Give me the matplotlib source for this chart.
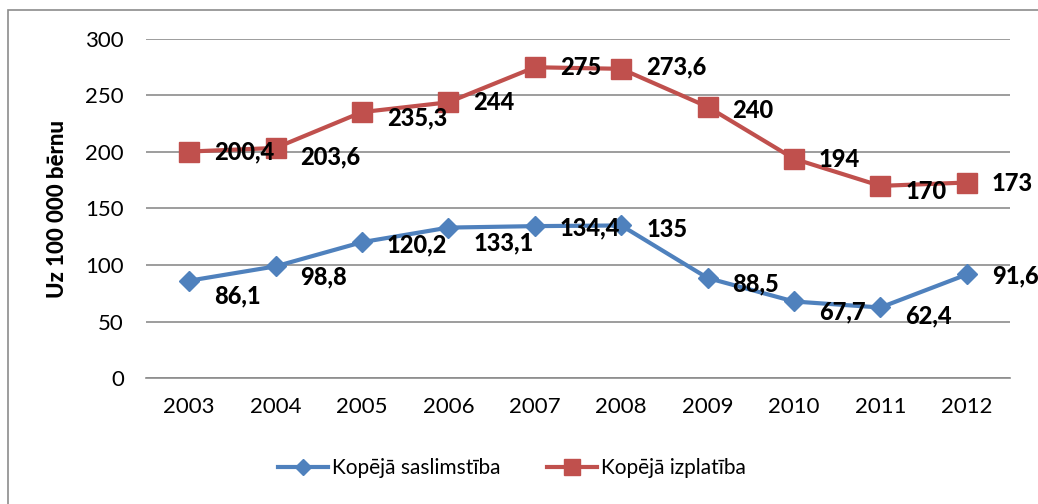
import matplotlib.pyplot as plt
from matplotlib.patches import Rectangle

plt.rcParams['font.family'] = ['Lato', 'DejaVu Sans']

years = ['2003', '2004', '2005', '2006', '2007', '2008', '2009', '2010', '2011', '2012']
saslimstiba = [86.1, 98.8, 120.2, 133.1, 134.4, 135, 88.5, 67.7, 62.4, 91.6]
izplatiba = [200.4, 203.6, 235.3, 244, 275, 273.6, 240, 194, 170, 173]

# vertical shift of the data labels (pixels, down positive)
dy_blue = [15, 11, 3, 15, 2, 4, 6, 10, 8, 1]
dy_red = [0, 9, 6, 0, 0, -2, 4, 1, 6, 1]

blue = '#4F81BD'
red = '#C0504D'

fig = plt.figure(figsize=(10.38, 5.04), dpi=100)
fig.patches.append(Rectangle((8/1038, -0.1), 1.2, 1.1 - 10/504, transform=fig.transFigure,
                             fill=False, edgecolor='#8c8c8c', linewidth=1.2))
ax = fig.add_axes([146/1038, 1-378/504, 864/1038, 339/504])

x = range(len(years))
ax.plot(x, saslimstiba, color=blue, lw=3, marker='D', ms=10, label='Kopējā saslimstība')
ax.plot(x, izplatiba, color=red, lw=3, marker='s', ms=14, label='Kopējā izplatība')

def fmt(v):
    return ('%g' % v).replace('.', ',')

px = 72/100
for i, v in enumerate(saslimstiba):
    ax.annotate(fmt(v), (i, v), xytext=(25*px, -dy_blue[i]*px), textcoords='offset points',
                ha='left', va='center', fontsize=17, fontweight='black')
for i, v in enumerate(izplatiba):
    ax.annotate(fmt(v), (i, v), xytext=(25*px, -dy_red[i]*px), textcoords='offset points',
                ha='left', va='center', fontsize=17, fontweight='black')

ax.set_xlim(-0.5, len(years) - 0.5)
ax.set_ylim(0, 300)
ax.set_yticks(range(0, 301, 50))
ax.set_xticks(list(x))
ax.set_xticklabels(years)
ax.grid(axis='y', color='#8c8c8c', lw=1.2)
ax.set_axisbelow(True)
for s in ['top', 'right', 'left']:
    ax.spines[s].set_visible(False)
ax.spines['bottom'].set_color('#8c8c8c')
ax.spines['bottom'].set_linewidth(1.2)
ax.tick_params(axis='both', length=0, labelsize=16)
ax.tick_params(axis='x', pad=14)
ax.tick_params(axis='y', pad=16)
ax.set_ylabel('Uz 100 000 bērnu', fontsize=16, fontweight='black', labelpad=12)

fig.legend(loc='center', bbox_to_anchor=(512/1038, 1-468/504), ncol=2, frameon=False,
           fontsize=15, handlelength=2.4, columnspacing=2.2, handletextpad=0.2,
           markerscale=0.8)

fig.savefig('out.png', dpi=100)
